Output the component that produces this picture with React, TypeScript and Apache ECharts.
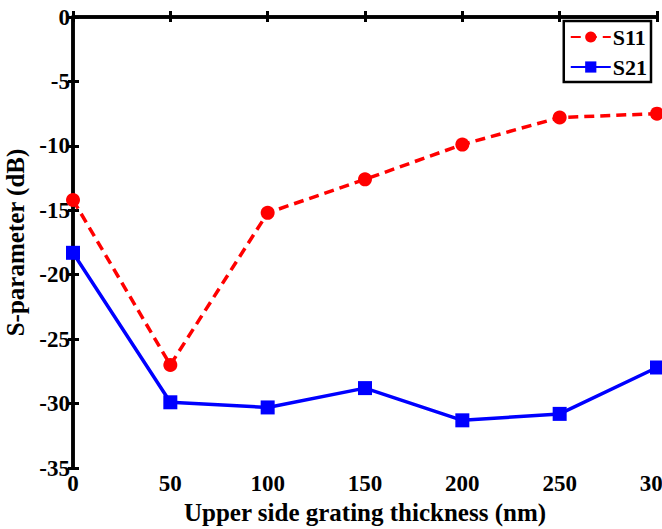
import React, { useEffect, useRef } from "react";
import * as echarts from "echarts";

const thickness = [0, 50, 100, 150, 200, 250, 300];
const s11 = [-14.2, -27.0, -15.2, -12.6, -9.9, -7.8, -7.5];
const s21 = [-18.3, -29.9, -30.3, -28.8, -31.3, -30.8, -27.2];
const yTicks = [0, -5, -10, -15, -20, -25, -30, -35];

const FONT = "Times New Roman, Liberation Serif, serif";

export default function App() {
  const ref = useRef<HTMLDivElement>(null);
  useEffect(() => {
    if (!ref.current) return;
    const chart = echarts.init(ref.current, null, { renderer: "svg" });
    const axisLabelStyle = { fontFamily: FONT, fontWeight: "bold" as const, fontSize: 23, color: "#000" };
    chart.setOption({
      animation: false,
      backgroundColor: "#fff",
      textStyle: { fontFamily: FONT, fontWeight: "bold" },
      grid: { left: 73, right: 5, top: 17, bottom: 61, containLabel: false, outerBoundsMode: "none" },
      legend: {
        right: 11,
        top: 21,
        orient: "vertical",
        backgroundColor: "#fff",
        borderColor: "#000",
        borderWidth: 2.5,
        borderRadius: 0,
        padding: [5, 4, 4, 6],
        itemGap: 8,
        itemWidth: 40,
        itemHeight: 14,
        textStyle: { fontFamily: FONT, fontWeight: "bold", fontSize: 22, color: "#000", padding: [0, 0, 0, -3] },
        data: ["S11", "S21"],
      },
      xAxis: [
        {
          type: "value",
          min: 0,
          max: 300,
          interval: 50,
          name: "Upper side grating thickness (nm)",
          nameLocation: "middle",
          nameGap: 24,
          nameTextStyle: { fontFamily: FONT, fontWeight: "bold", fontSize: 25, color: "#000" },
          axisLine: { lineStyle: { color: "#000", width: 3.5 } },
          axisTick: { inside: true, length: 6, lineStyle: { color: "#000", width: 3 } },
          axisLabel: { ...axisLabelStyle, margin: 4 },
          splitLine: { show: false },
        },
        {
          type: "value",
          position: "top",
          min: 0,
          max: 300,
          interval: 50,
          axisLine: { show: true, lineStyle: { color: "#000", width: 3.5 } },
          axisTick: { show: true, inside: true, length: 5, lineStyle: { color: "#000", width: 3 } },
          axisLabel: { show: false },
          splitLine: { show: false },
        },
      ],
      yAxis: [
        {
          type: "value",
          min: -35,
          max: 0,
          interval: 5,
          name: "S-parameter (dB)",
          nameLocation: "middle",
          nameGap: 38,
          nameTextStyle: { fontFamily: FONT, fontWeight: "bold", fontSize: 25, color: "#000" },
          axisLine: { lineStyle: { color: "#000", width: 3.5 } },
          axisTick: { inside: true, length: 6, lineStyle: { color: "#000", width: 3 } },
          axisLabel: {
            ...axisLabelStyle,
            margin: 3,
            formatter: (v: number) => (yTicks.includes(v) ? String(v) : ""),
          },
          splitLine: { show: false },
        },
        {
          type: "value",
          position: "right",
          min: -35,
          max: 0,
          interval: 5,
          axisLine: { show: true, lineStyle: { color: "#000", width: 3.5 } },
          axisTick: { show: true, inside: true, length: 5, lineStyle: { color: "#000", width: 3 } },
          axisLabel: { show: false },
          splitLine: { show: false },
        },
      ],
      series: [
        {
          name: "S11",
          type: "line",
          data: thickness.map((x, i) => [x, s11[i]]),
          symbol: "circle",
          symbolSize: 14,
          itemStyle: { color: "#ff0000" },
          lineStyle: { color: "#ff0000", width: 3.5, type: [10, 6] },
          z: 3,
        },
        {
          name: "S21",
          type: "line",
          data: thickness.map((x, i) => [x, s21[i]]),
          symbol: "rect",
          symbolSize: 14,
          itemStyle: { color: "#0000ff" },
          lineStyle: { color: "#0000ff", width: 3.5 },
          z: 3,
        },
      ],
    });
    return () => chart.dispose();
  }, []);
  return <div ref={ref} style={{ width: 662, height: 529, position: "absolute", left: 0, top: 0 }} />;
}
